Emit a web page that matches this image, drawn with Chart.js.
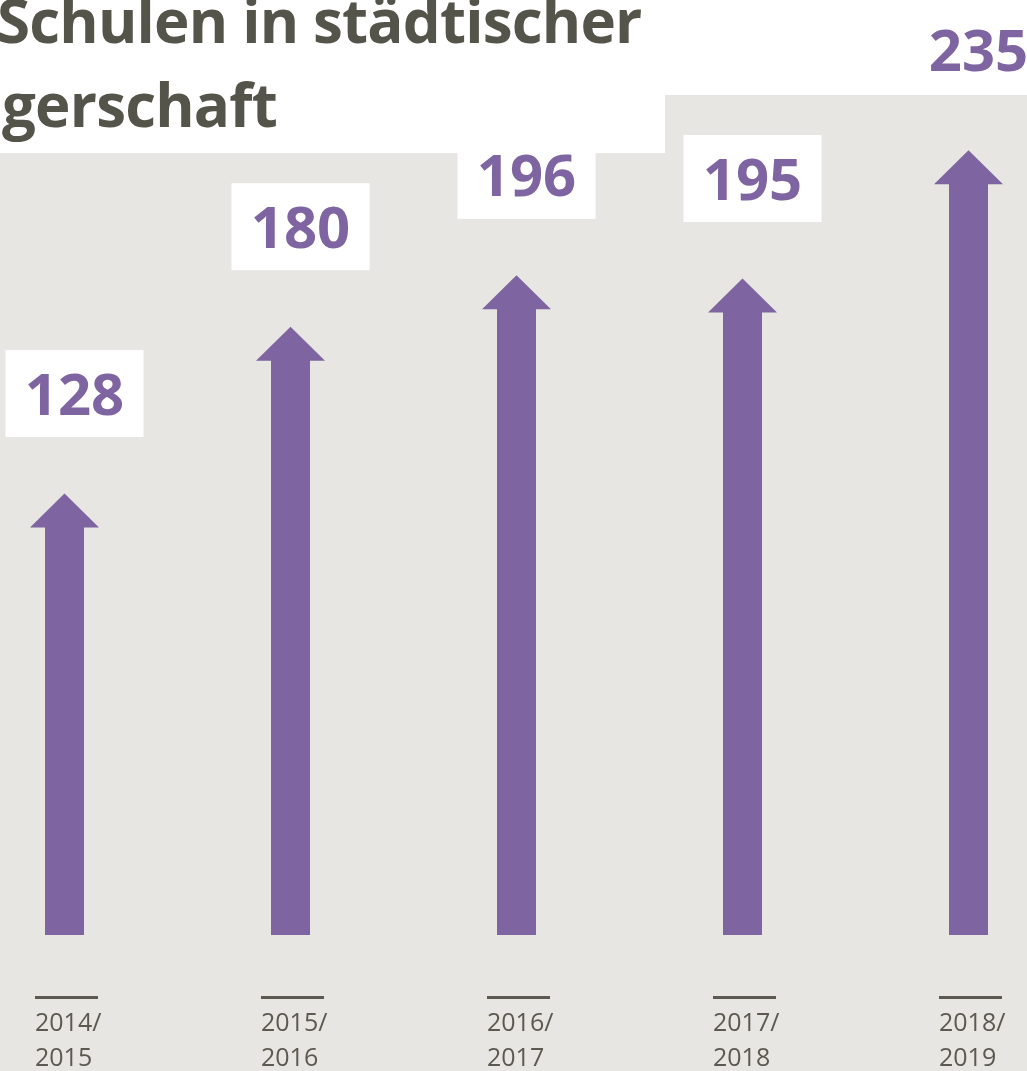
<!DOCTYPE html>
<html lang="de">
<head>
<meta charset="utf-8">
<script src="https://cdn.jsdelivr.net/npm/chart.js@4"></script>
<style>
    html, body { margin: 0; padding: 0; background: #fff; overflow: hidden; }
    #wrap { position: relative; width: 1027px; height: 1071px; overflow: hidden; }
    #grafico { position: absolute; left: 0; top: 0; }
    #titel {
        position: absolute; left: 0; top: 0; width: 665px; height: 153px;
        background: #fff; overflow: hidden; pointer-events: none;
        font-family: "Open Sans", sans-serif; font-weight: 700; font-size: 60px;
        letter-spacing: -0.8px; color: #55544a; line-height: 62px;
    }
    #titel .z1 { position: absolute; left: -3px; top: -11px; white-space: nowrap; }
    #titel .z2 { position: absolute; right: 388px; top: 73px; white-space: nowrap; }
</style>
</head>
<body>
<div id="wrap">
    <canvas id="grafico" width="1027" height="1147"></canvas>
    <div id="titel">
        <span class="z1">Schulen in städtischer</span>
        <span class="z2">Trägerschaft</span>
    </div>
</div>
<script>
const schuljahre = [["2014/", "2015"], ["2015/", "2016"], ["2016/", "2017"], ["2017/", "2018"], ["2018/", "2019"]];
const anzahlSchulen = [128, 180, 196, 195, 235];

const lila = "#7e65a1";
const grau = "#e7e6e2";
const textGrau = "#5b5950";

// grauer Hintergrund unter dem Titel
const hintergrund = {
    id: "hintergrund",
    beforeDraw(chart) {
        const ctx = chart.ctx;
        ctx.save();
        ctx.fillStyle = grau;
        ctx.fillRect(0, chart.chartArea.top, chart.width, chart.height - chart.chartArea.top);
        ctx.restore();
    }
};

// Pfeile + Zahlenkästchen + Striche über den Jahren
const pfeile = {
    id: "pfeile",
    afterDatasetsDraw(chart) {
        const ctx = chart.ctx;
        const meta = chart.getDatasetMeta(0);
        const xAchse = chart.scales.x;
        const yAchse = chart.scales.y;
        ctx.save();
        meta.data.forEach((balken, i) => {
            let x = balken.x;
            let spitze = balken.y;
            let basis = yAchse.bottom;
            let kopf = 34;

            // Pfeil als ein Pfad, damit keine Naht zwischen Kopf und Schaft bleibt
            ctx.fillStyle = lila;
            ctx.beginPath();
            ctx.moveTo(x, spitze);
            ctx.lineTo(x + 34.5, spitze + kopf);
            ctx.lineTo(x + 19.5, spitze + kopf);
            ctx.lineTo(x + 19.5, basis);
            ctx.lineTo(x - 19.5, basis);
            ctx.lineTo(x - 19.5, spitze + kopf);
            ctx.lineTo(x - 34.5, spitze + kopf);
            ctx.closePath();
            ctx.fill();

            // Kästchen mit Zahl
            let kx = x + 10;
            let ky = spitze - 100;
            ctx.fillStyle = "#fff";
            ctx.fillRect(kx - 69, ky - 43.5, 138, 87);
            ctx.fillStyle = lila;
            ctx.font = "bold 58px 'Open Sans', sans-serif";
            ctx.textAlign = "center";
            ctx.textBaseline = "alphabetic";
            ctx.fillText(String(anzahlSchulen[i]), kx, ky + 21);

            // Strich über der Beschriftung
            let sx = xAchse.getPixelForTick(i);
            ctx.fillStyle = textGrau;
            ctx.fillRect(sx - 29.5, xAchse.top + 61, 63, 3);
        });
        ctx.restore();
    }
};

new Chart(document.getElementById("grafico"), {
    type: "bar",
    data: {
        labels: schuljahre,
        datasets: [{
            label: "Schulen",
            data: anzahlSchulen,
            backgroundColor: "transparent",
            barThickness: 39
        }]
    },
    options: {
        responsive: false,
        animation: false,
        events: [],
        layout: { padding: { top: 95, left: 64.5, right: 58.5, bottom: 0 } },
        plugins: {
            legend: { display: false },
            tooltip: { enabled: false }
        },
        scales: {
            x: {
                offset: false,
                grid: { display: false, drawTicks: false },
                border: { display: false },
                afterFit(achse) {
                    achse.paddingLeft = 0;
                    achse.paddingRight = 0;
                },
                ticks: {
                    align: "start",
                    labelOffset: -29.5,
                    padding: 71,
                    color: textGrau,
                    font: { family: "'Open Sans', sans-serif", size: 25, lineHeight: 1.4 }
                }
            },
            y: {
                display: false,
                min: -9.55,
                max: 252.2
            }
        }
    },
    plugins: [hintergrund, pfeile]
});
</script>
</body>
</html>
